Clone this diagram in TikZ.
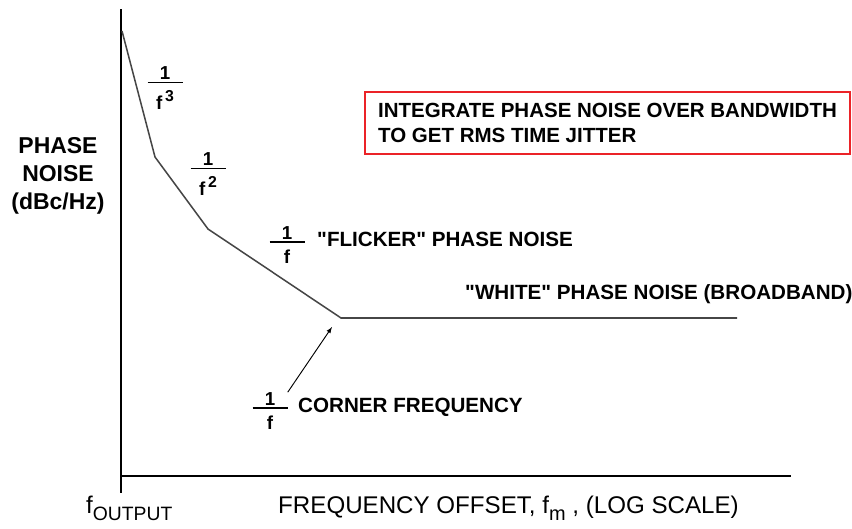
\documentclass[tikz,border=0pt]{standalone}
\usepackage{fontspec}
\setmainfont{Liberation Sans}
\usepackage{tikz}
\usetikzlibrary{arrows,positioning}
\usepackage{xcolor}
\definecolor{pnred}{RGB}{235,35,40}
\definecolor{pngray}{RGB}{70,70,70}
\tikzstyle{axis} = [line width=1.6pt, black]
\tikzstyle{noise} = [line width=1.3pt, color=pngray]
\tikzstyle{pointer} = [->, >=latex, line width=0.8pt, black]
\tikzstyle{lbl} = [font=\fontsize{17.6}{21}\selectfont\bfseries, inner sep=0pt]
\tikzstyle{slope} = [font=\fontsize{16}{18}\selectfont\bfseries, inner sep=0pt]
\tikzstyle{axlbl} = [font=\fontsize{20.6}{24}\selectfont, inner sep=0pt]
\tikzstyle{note} = [rectangle, draw=pnred, line width=1.2pt, minimum width=14.55cm, minimum height=1.86cm, align=left, inner sep=0pt, font=\fontsize{17.5}{21.3}\selectfont\bfseries]
\newcommand{\slopefrac}[2]{\vbox{\hbox to 1.05cm{\hss#1\hss}\kern1.5pt\hrule height1.6pt\kern6pt\hbox to 1.05cm{\hss#2\hss}}}
\newcommand{\pwr}[1]{\hspace{0.14em}\raisebox{0.4em}{\fontsize{13.5}{15}\selectfont #1}}
% straight double quote, past the TeX ligature mapping
\newcommand{\qt}{\XeTeXglyph\XeTeXcharglyph"22\relax}

\begin{document}
\begin{tikzpicture}[x=0.03cm, y=-0.03cm]
\useasboundingbox (0,0) rectangle (852,528);

% Axes
\coordinate (ytop) at (121,9);
\coordinate (ybot) at (121,493);
\coordinate (origin) at (121,476);
\coordinate (xend) at (791,476);
\draw[axis] (ytop) -- (ybot);
\draw[axis] (origin) -- (xend);

% Noise curve
\coordinate (start) at (122,31);
\coordinate (kink1) at (155,157);
\coordinate (kink2) at (208,229);
\coordinate (corner) at (341,318);
\coordinate (floor) at (737,318);
\draw[noise] (start) -- (kink1) -- (kink2) -- (corner) -- (floor);

% Slope labels
\node (cubic) [slope] at (165,88) {\slopefrac{1}{f\pwr{3}}};
\node (square) [slope] at (208,174) {\slopefrac{1}{f\pwr{2}}};
\node (flickfrac) [slope] at (287,245) {\slopefrac{1}{f}};
\node (flicker) [lbl, anchor=west] at (317,239) {\qt FLICKER\qt\ PHASE NOISE};
\node (white) [lbl, anchor=west] at (465,294) {\qt WHITE\qt\ PHASE NOISE (BROADBAND)};

% Corner frequency
\node (cornfrac) [slope] at (270,411) {\slopefrac{1}{f}};
\node (cornlbl) [lbl, anchor=west] at (298,407) {CORNER FREQUENCY};
\coordinate (tip) at (332,327);
\draw[pointer] (cornfrac.north east) -- (tip);

% Note box
\node (jitter) [note] at (607.5,123) {INTEGRATE PHASE NOISE OVER BANDWIDTH\\TO GET RMS TIME JITTER};

% Axis labels
\node (ylabel) [lbl, align=center, font=\fontsize{19.6}{23.9}\selectfont\bfseries] at (58,176) {PHASE\\NOISE\\(dBc/Hz)};
\node (fout) [axlbl, anchor=west] at (86,508) {f\raisebox{-0.3em}{\fontsize{16.5}{18}\selectfont OUTPUT}};
\node (xlabel) [axlbl, anchor=west] at (278,508) {FREQUENCY OFFSET, f\raisebox{-0.3em}{\fontsize{17}{18}\selectfont m} , (LOG SCALE)};
\end{tikzpicture}
\end{document}
